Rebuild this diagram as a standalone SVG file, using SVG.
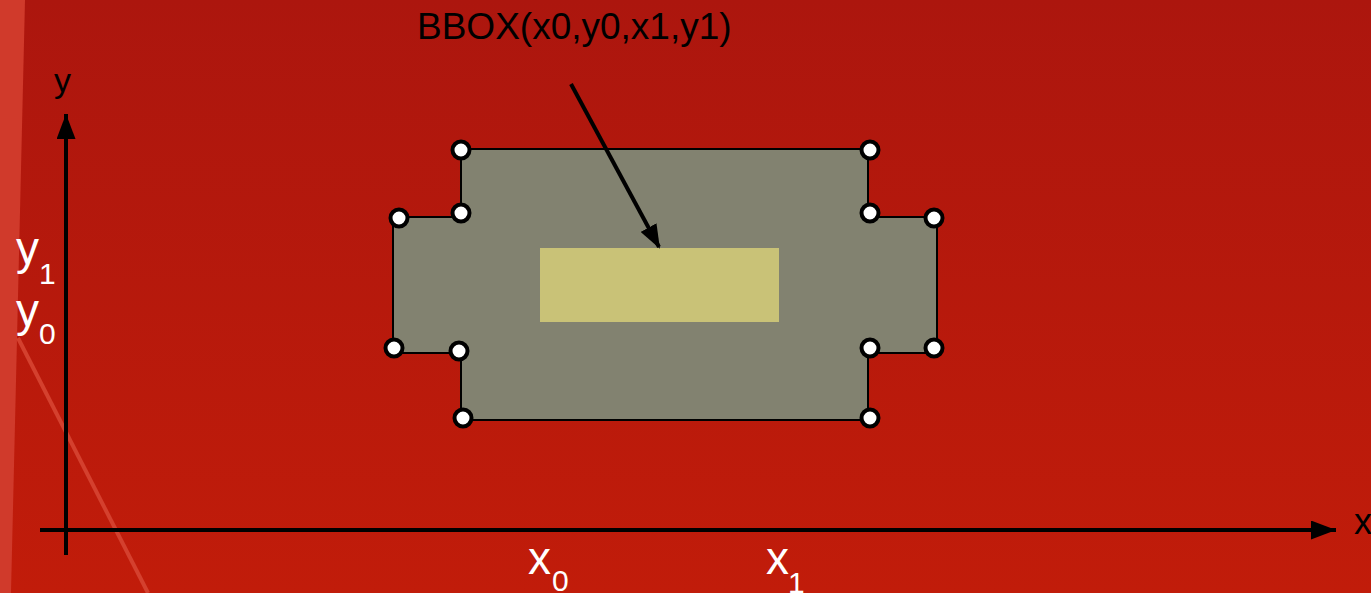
<svg xmlns="http://www.w3.org/2000/svg" width="1371" height="593" viewBox="0 0 1371 593">
<style>
.lbl{font-family:"Liberation Sans",Arial,sans-serif;fill:#fff}
.blk{font-family:"Liberation Sans",Arial,sans-serif;fill:#000}
.ax{stroke:#000;stroke-width:4;fill:none}
.pt{fill:#fff;stroke:#000;stroke-width:4}
</style>
<defs>
<linearGradient id="bg" x1="0" y1="0" x2="0" y2="1">
<stop offset="0" stop-color="#AC160E"/>
<stop offset="1" stop-color="#C11C0A"/>
</linearGradient>
<marker id="ah" markerWidth="25" markerHeight="19" refX="25" refY="9.5" orient="auto" markerUnits="userSpaceOnUse">
<path d="M0,0 L25,9.5 L0,19 Z" fill="#000"/>
</marker>
<marker id="ah2" markerWidth="24" markerHeight="18" refX="22" refY="9" orient="auto" markerUnits="userSpaceOnUse">
<path d="M0,0 L24,9 L0,18 Z" fill="#000"/>
</marker>
</defs>
<rect width="1371" height="593" fill="url(#bg)"/>
<polygon points="0,0 25,0 11,593 0,593" fill="#D03A2B"/>
<line x1="18" y1="338" x2="148" y2="593" stroke="#D4402E" stroke-width="4"/>
<g id="shape">
<polygon points="461,149 868,149 868,217 937,217 937,353 868,353 868,420 461,420 461,353 393,353 393,217 461,217" fill="#828270" stroke="#000" stroke-width="2"/>
</g>
<g id="bbox">
<rect x="540" y="248" width="239" height="74" fill="#C9C277"/>
</g>
<g id="points">
<circle class="pt" cx="461" cy="150" r="8.5"/>
<circle class="pt" cx="870" cy="150" r="8.5"/>
<circle class="pt" cx="461" cy="213" r="8.5"/>
<circle class="pt" cx="870" cy="213" r="8.5"/>
<circle class="pt" cx="399" cy="218" r="8.5"/>
<circle class="pt" cx="934" cy="218" r="8.5"/>
<circle class="pt" cx="394" cy="348" r="8.5"/>
<circle class="pt" cx="459" cy="351" r="8.5"/>
<circle class="pt" cx="870" cy="348" r="8.5"/>
<circle class="pt" cx="934" cy="348" r="8.5"/>
<circle class="pt" cx="463" cy="418" r="8.5"/>
<circle class="pt" cx="870" cy="418" r="8.5"/>
</g>
<g id="connectors">
<line class="ax" x1="66" y1="555" x2="66" y2="114" marker-end="url(#ah)"/>
<line class="ax" x1="40" y1="530" x2="1336" y2="530" marker-end="url(#ah)"/>
<line class="ax" x1="571" y1="84" x2="659" y2="247" stroke-width="3.5" marker-end="url(#ah2)"/>
</g>
<g id="labels">
<text class="blk" x="417" y="39" font-size="37">BBOX(x0,y0,x1,y1)</text>
<text class="blk" x="54" y="92" font-size="34">y</text>
<text class="blk" x="1354" y="534" font-size="36">x</text>
<text class="lbl" x="16" y="264" font-size="46">y<tspan font-size="30" x="39" y="284">1</tspan></text>
<text class="lbl" x="16" y="326" font-size="46">y<tspan font-size="30" x="39" y="344">0</tspan></text>
<text class="lbl" x="528" y="574" font-size="46">x<tspan font-size="30" x="552" y="591">0</tspan></text>
<text class="lbl" x="766" y="574" font-size="46">x<tspan font-size="30" x="788" y="593">1</tspan></text>
</g>
</svg>
